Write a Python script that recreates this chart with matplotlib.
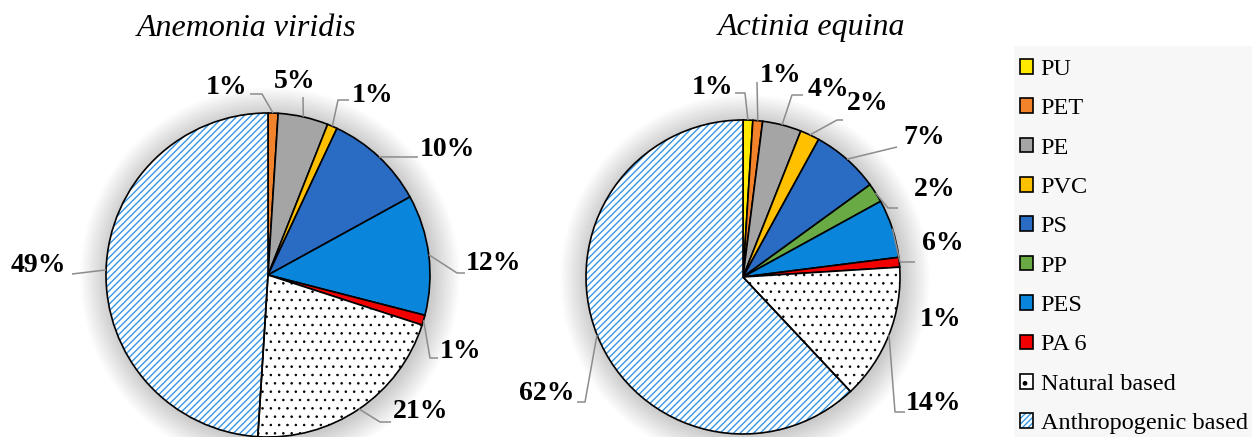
import numpy as np
import matplotlib
matplotlib.use("Agg")
import matplotlib.pyplot as plt
from matplotlib.patches import Patch, Circle, Rectangle, Wedge
from matplotlib.legend_handler import HandlerTuple

# ---- data ----
categories = ["PU", "PET", "PE", "PVC", "PS", "PP", "PES", "PA 6",
              "Natural based", "Anthropogenic based"]
anemonia_values = [0, 1, 5, 1, 10, 0, 12, 1, 21, 49]
actinia_values = [1, 1, 4, 2, 7, 2, 6, 1, 14, 62]
titles = ["Anemonia viridis", "Actinia equina"]

# ---- styling ----
colors = ["#FFE900", "#F2832A", "#A5A5A5", "#FFC000", "#2A6CC4",
          "#6AAA45", "#0A85DC", "#F20000", "white", "white"]
hatch_colors = [None] * 8 + ["black", "#3596E6"]
hatches = [None] * 8 + ["..", "/////"]
hatch_widths = [None] * 8 + [0.6, 1.0]

W, H = 1252, 437
fig = plt.figure(figsize=(W / 100, H / 100), dpi=100)
ax = fig.add_axes([0, 0, 1, 1])
ax.set_xlim(0, W)
ax.set_ylim(0, H)
ax.set_aspect("equal")
ax.axis("off")

serif = ["Liberation Serif", "DejaVu Serif"]


def Y(y):
    return H - y


def set_hatch_lw(patch, lw):
    if hasattr(patch, "set_hatch_linewidth"):
        patch.set_hatch_linewidth(lw)
    else:
        patch._hatch_linewidth = lw


# pie geometry (pixels, top-down y) and label layout
pies = [
    dict(values=anemonia_values, center=(268, 275), radius=162,
         title_pos=(247, 28),
         labels=[  # (text x, text y, ha, leader knee points)
             (247, 88, "right", [(262, 94), (250, 94)]),
             (295, 81, "center", [(303, 97)]),
             (352, 96, "left", [(338, 100), (349, 100)]),
             (420, 150, "left", [(400, 157), (418, 157)]),
             (466, 264, "left", [(457, 273), (465, 273)]),
             (440, 351, "left", [(430, 358), (438, 358)]),
             (393, 411, "left", [(380, 422), (391, 422)]),
             (66, 266, "right", [(72, 274)]),
         ]),
    dict(values=actinia_values, center=(743, 277), radius=157,
         title_pos=(812, 28),
         labels=[
             (733, 87, "right", [(745, 93), (735, 93)]),
             (760, 75, "left", [(757, 82)]),
             (808, 89, "left", [(792, 95), (803, 95)]),
             (847, 104, "left", [(837, 120), (843, 120)]),
             (903, 137, "left", [(897, 147)]),
             (914, 190, "left", [(888, 208), (898, 208)]),
             (922, 244, "left", [(900, 262), (915, 262)]),
             (920, 320, "left", None),
             (906, 404, "left", [(895, 412), (905, 412)]),
             (574, 393, "right", [(585, 402), (577, 402)]),
         ]),
]

for n_pie, p in enumerate(pies):
    cx, cy = p["center"][0], Y(p["center"][1])
    R = p["radius"]

    # soft glow behind the pie
    n = 26
    for k in range(n):
        ax.add_patch(Circle((cx + 2, cy - 2), R + 28 - k * 28 / n,
                            facecolor="black", edgecolor="none",
                            alpha=0.007, zorder=0))

    idx = [i for i, v in enumerate(p["values"]) if v > 0]
    vals = [p["values"][i] for i in idx]
    wedges, _ = ax.pie(vals, center=(cx, cy), radius=R, startangle=90,
                       counterclock=False, colors=[colors[i] for i in idx],
                       frame=True,
                       wedgeprops=dict(edgecolor="black", linewidth=1.2))
    for w, i in zip(wedges, idx):
        w.set_zorder(2)
        if hatches[i]:
            # hatched fill drawn in its own colour, outline on top in black
            w.set_hatch(hatches[i])
            w.set_edgecolor(hatch_colors[i])
            w.set_linewidth(0)
            set_hatch_lw(w, hatch_widths[i])
            ax.add_patch(Wedge(w.center, w.r, w.theta1, w.theta2,
                               facecolor="none", edgecolor="black",
                               linewidth=1.2, zorder=3))

    # percentage labels with leader lines
    for w, i, lab in zip(wedges, idx, p["labels"]):
        tx, ty, ha, knees = lab
        mid = np.deg2rad((w.theta1 + w.theta2) / 2)
        if knees:
            xs = [cx + R * np.cos(mid)] + [k[0] for k in knees]
            ys = [cy + R * np.sin(mid)] + [Y(k[1]) for k in knees]
            ax.plot(xs, ys, color="#8C8C8C", lw=1.1, zorder=4,
                    solid_capstyle="butt")
        ax.text(tx, Y(ty), f"{p['values'][i]}%", ha=ha, va="center",
                family=serif, fontweight="bold", fontsize=20, zorder=5)

    ax.text(p["title_pos"][0], Y(p["title_pos"][1]), titles[n_pie],
            ha="center", va="center", family=serif, style="italic",
            fontsize=23)

ax.set_xlim(0, W)
ax.set_ylim(0, H)

# legend panel
fig.patches.append(Rectangle((1014 / W, 0), (W - 1014) / W, (H - 46) / H,
                             transform=fig.transFigure, facecolor="#F7F7F7",
                             edgecolor="none", zorder=0))
handles = []
for i, c in enumerate(categories):
    if hatches[i]:
        fill = Patch(facecolor="white", edgecolor=hatch_colors[i],
                     linewidth=0, hatch="." if i == 8 else "//////")
        set_hatch_lw(fill, hatch_widths[i])
        outline = Patch(facecolor="none", edgecolor="black", linewidth=1.2)
        handles.append((fill, outline))
    else:
        handles.append(Patch(facecolor=colors[i], edgecolor="black",
                             linewidth=1.2))
leg = fig.legend(handles=handles, labels=categories, loc="upper left",
                 bbox_to_anchor=(1020 / W, 1 - 59 / H), frameon=False,
                 prop=dict(family=serif, size=17.5), handlelength=0.55,
                 handleheight=0.55, handletextpad=0.3, labelspacing=0.755,
                 borderpad=0, borderaxespad=0,
                 handler_map={tuple: HandlerTuple(ndivide=1, pad=0)})

fig.savefig("out.png", dpi=100, facecolor="white")
